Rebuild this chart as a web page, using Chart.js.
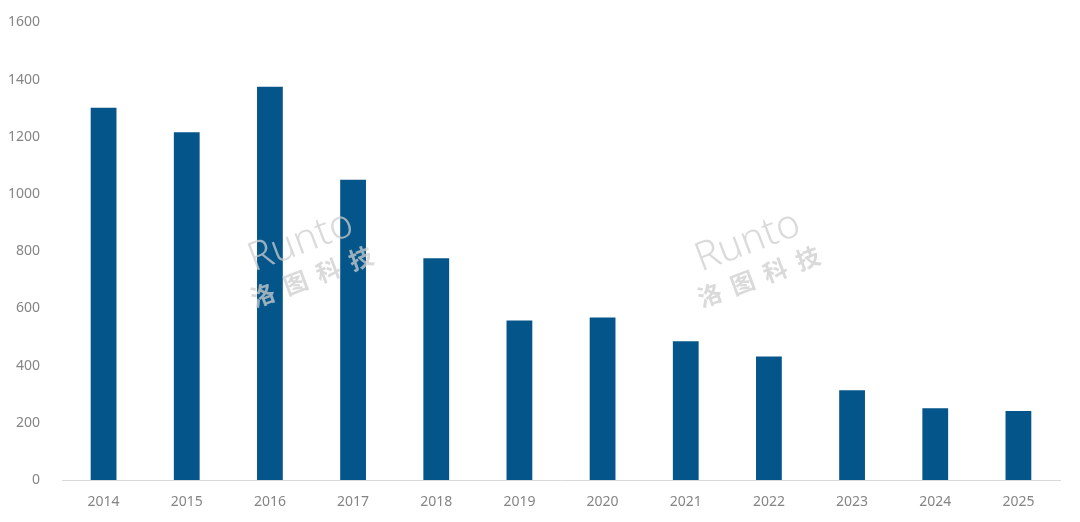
<!DOCTYPE html>
<html>
<head>
<meta charset="utf-8">
<script src="https://cdn.jsdelivr.net/npm/chart.js@4"></script>
<style>
  html, body { margin: 0; padding: 0; background: #fff; }
  #wrap { width: 1080px; height: 522px; }
</style>
</head>
<body>
<div id="wrap"><canvas id="barChart"></canvas></div>
<script>
const years = ['2014', '2015', '2016', '2017', '2018', '2019', '2020', '2021', '2022', '2023', '2024', '2025'];
const values = [1302, 1216, 1375, 1050, 775, 558, 568, 485, 432, 314, 251, 241];
const yTicks = [0, 200, 400, 600, 800, 1000, 1200, 1400, 1600];

// faint "Runto 洛图科技" watermark, drawn twice
const watermark = {
  id: 'watermark',
  afterDatasetsDraw(chart) {
    const ctx = chart.ctx;
    const spots = [[310, 255], [757, 255]];
    spots.forEach(([x, y]) => {
      ctx.save();
      ctx.translate(x, y);
      ctx.rotate(-0.36);
      ctx.fillStyle = 'rgba(205,205,205,0.75)';
      ctx.textAlign = 'center';
      ctx.font = '300 40px "Noto Sans"';
      ctx.fillText('Runto', -4, -4);
      ctx.font = 'bold 24px "Noto Sans CJK SC"';
      ctx.fillText('洛  图  科  技', -6, 30);
      ctx.restore();
    });
  }
};

new Chart(document.getElementById('barChart'), {
  type: 'bar',
  data: {
    labels: years,
    datasets: [{
      data: values,
      backgroundColor: '#04568a',
      barPercentage: 0.31,
      categoryPercentage: 1
    }]
  },
  options: {
    responsive: true,
    maintainAspectRatio: false,
    animation: false,
    layout: { padding: { top: 14, right: 20, left: 0, bottom: 0 } },
    plugins: { legend: { display: false }, tooltip: { enabled: false } },
    scales: {
      x: {
        grid: { display: false },
        border: { color: '#d9d9d9', width: 1 },
        ticks: { color: '#858585', font: { family: 'Noto Sans', size: 14 }, padding: 6 },
        afterFit(scale) { scale.height = 42; }
      },
      y: {
        min: 0,
        max: 1600,
        afterBuildTicks(scale) { scale.ticks = yTicks.map(v => ({ value: v })); },
        grid: { display: false },
        border: { display: false },
        ticks: {
          color: '#858585',
          font: { family: 'Noto Sans', size: 14 },
          padding: 14,
          callback: v => String(v)
        },
        afterFit(scale) { scale.width = 62; }
      }
    }
  },
  plugins: [watermark]
});
</script>
</body>
</html>
